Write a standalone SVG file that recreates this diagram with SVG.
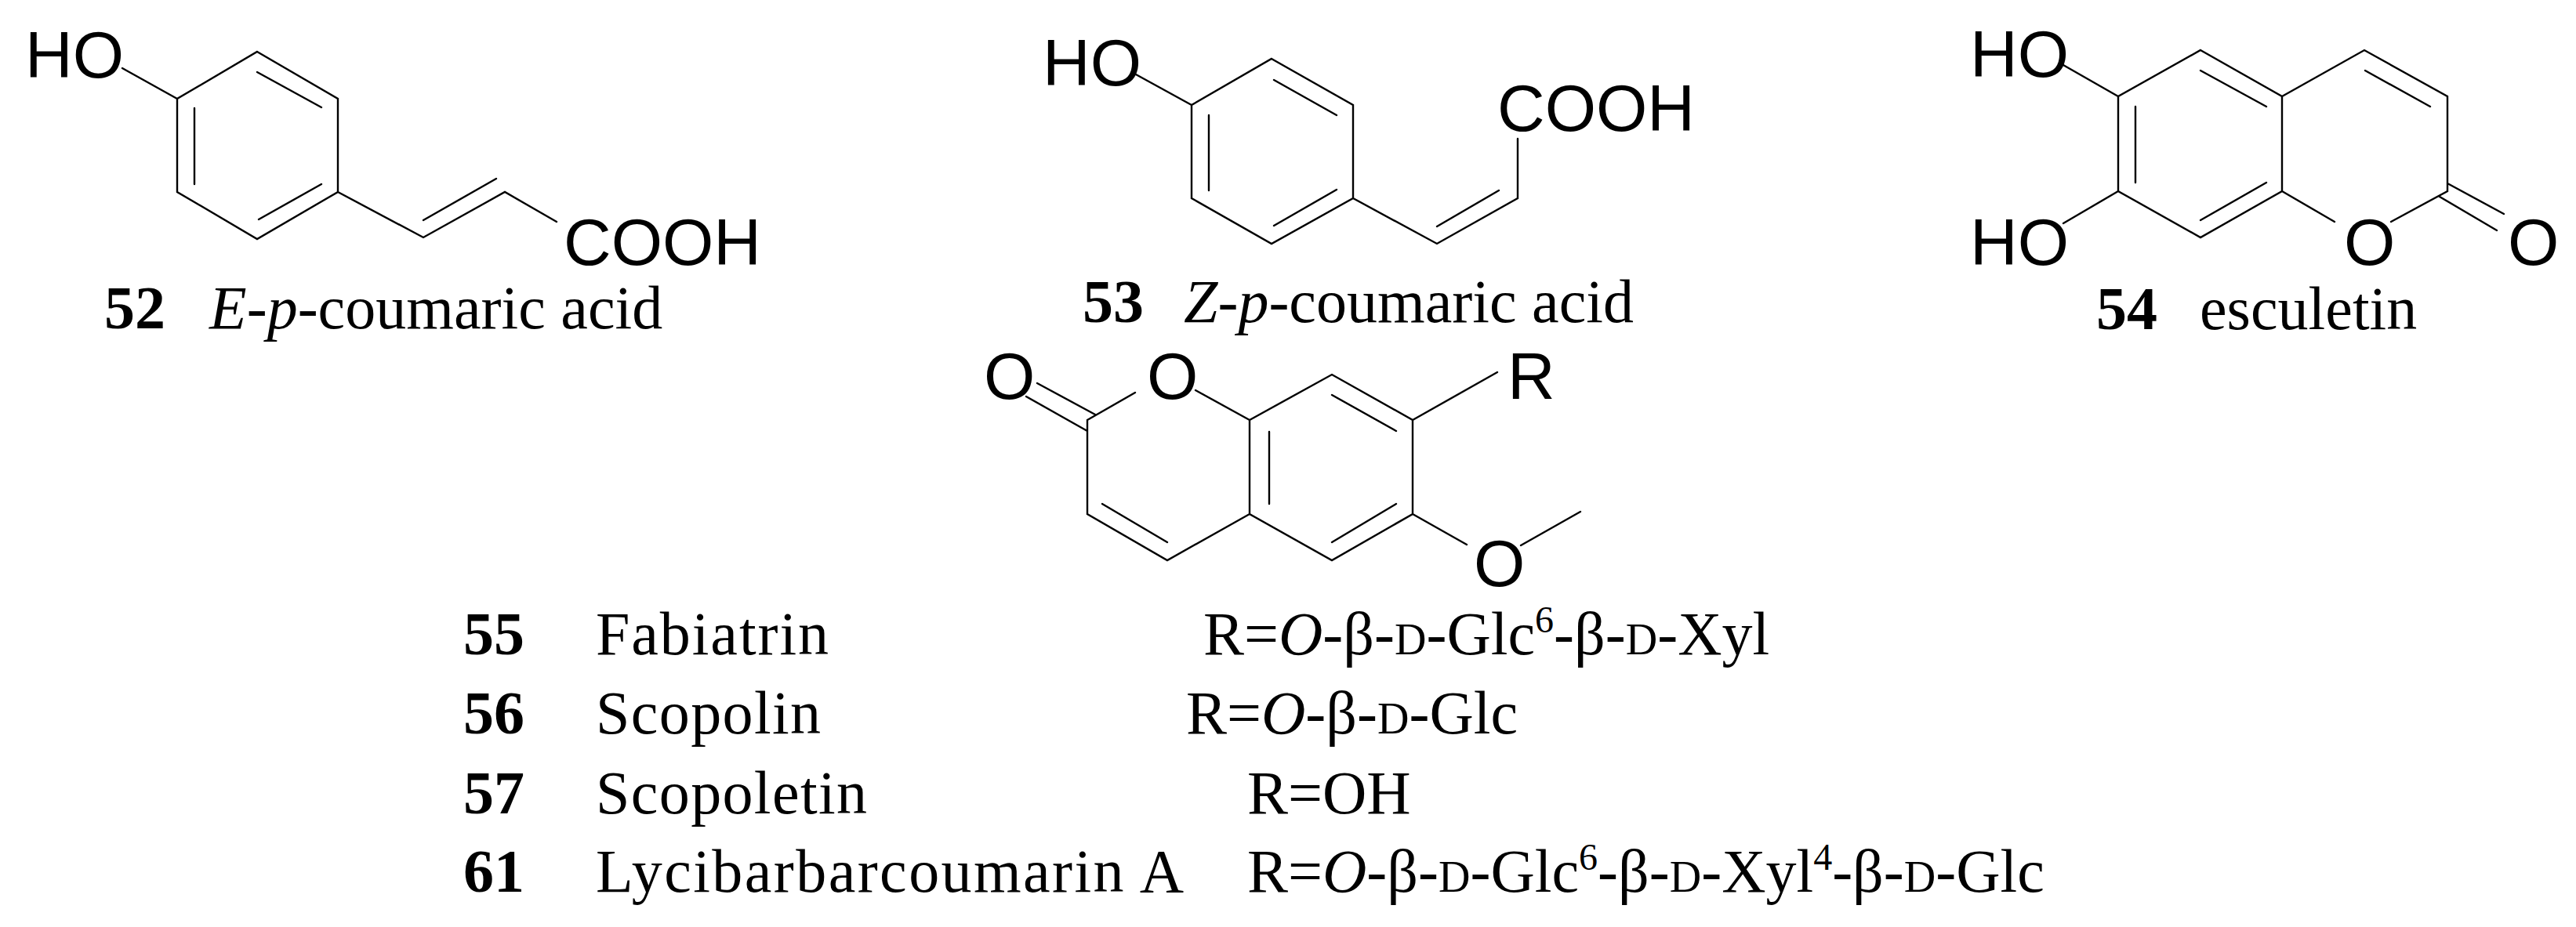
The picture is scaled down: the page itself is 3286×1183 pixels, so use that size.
<svg xmlns="http://www.w3.org/2000/svg" width="3286" height="1183" viewBox="0 0 3286 1183">
<style>
.b{stroke:#000;stroke-width:2.4;fill:none;stroke-linecap:round}
.a{font-family:"Liberation Sans",Arial,sans-serif;font-size:84px;fill:#000}
.t{font-family:"Liberation Serif","Times New Roman",serif;font-size:78px;fill:#000}
.n{font-weight:bold}
.i{font-style:italic}
.sc{font-size:56px}
.sup{font-size:48px}
</style>
<rect width="3286" height="1183" fill="#fff"/>
<g id="m52">
<path class="b" d="M328,66 L431,126 L431,245 L328,305 L226,245 L226,126 Z M328,92 L410,137 M248,138 L248,235 M330,280 L410,235 M156,87 L226,126 M431,245 L540,303 L644,245 L710,283 M540,281 L633,228"/>
<text class="a" x="32" y="99">HO</text>
<text class="a" x="719" y="338">COOH</text>
<text class="t" x="133" y="419"><tspan class="n">52</tspan><tspan x="267" class="i">E</tspan>-<tspan class="i">p</tspan>-coumaric acid</text>
</g>
<g id="m53">
<path class="b" d="M1622,75 L1726,134 L1726,253 L1622,311 L1520,253 L1520,134 Z M1625,102 L1705,147 M1542,147 L1542,243 M1625,288 L1705,242 M1449,95 L1520,134 M1726,253 L1833,311 L1936,253 L1936,177 M1833,289 L1912,243"/>
<text class="a" x="1330" y="109">HO</text>
<text class="a" x="1910" y="167">COOH</text>
<text class="t" x="1381" y="411"><tspan class="n">53</tspan><tspan x="1510" class="i">Z</tspan>-<tspan class="i">p</tspan>-coumaric acid</text>
</g>
<g id="m54">
<path class="b" d="M2807,64 L2911,123 L2911,244 L2807,303 L2702,244 L2702,123 Z M2807,90 L2891,136 M2724,136 L2724,233 M2807,281 L2891,233 M2911,123 L3016,64 L3122,123 L3122,244 L3050,283 M2911,244 L2978,283 M3017,90 L3100,136 M3112,251 L3185,294 M3122,234 L3194,273 M2632,83 L2702,123 M2632,285 L2702,244"/>
<text class="a" x="2513" y="98">HO</text>
<text class="a" x="2513" y="338">HO</text>
<text class="a" x="2990" y="338">O</text>
<text class="a" x="3199" y="338">O</text>
<text class="t" x="2674" y="420"><tspan class="n">54</tspan><tspan x="2806">esculetin</tspan></text>
</g>
<g id="m55">
<path class="b" d="M1387,536 L1448,501 M1525,498 L1594,536 M1323,489 L1397,529 M1309,506 L1387,550 M1387,536 L1387,656 L1489,715 L1594,656 M1406,643 L1489,692 M1594,536 L1699,478 L1802,536 L1802,656 L1699,715 L1594,656 Z M1699,504 L1781,550 M1619,551 L1619,643 M1699,692 L1781,643 M1802,536 L1910,475 M1802,656 L1871,695 M1940,696 L2016,653"/>
<text class="a" x="1255" y="509">O</text>
<text class="a" x="1463" y="509">O</text>
<text class="a" x="1923" y="509">R</text>
<text class="a" x="1880" y="748">O</text>
</g>
<g id="rows">
<text class="t" x="591" y="835"><tspan class="n">55</tspan></text>
<text class="t" x="760" y="835" textLength="297">Fabiatrin</text>
<text class="t" x="1535" y="835">R=<tspan class="i">O</tspan>-β-<tspan class="sc">D</tspan>-Glc<tspan class="sup" dy="-28">6</tspan><tspan dy="28">-β-</tspan><tspan class="sc">D</tspan>-Xyl</text>
<text class="t" x="591" y="936"><tspan class="n">56</tspan></text>
<text class="t" x="760" y="936" textLength="287">Scopolin</text>
<text class="t" x="1513" y="936">R=<tspan class="i">O</tspan>-β-<tspan class="sc">D</tspan>-Glc</text>
<text class="t" x="591" y="1038"><tspan class="n">57</tspan></text>
<text class="t" x="760" y="1038" textLength="346">Scopoletin</text>
<text class="t" x="1591" y="1038">R=OH</text>
<text class="t" x="591" y="1138"><tspan class="n">61</tspan></text>
<text class="t" x="760" y="1138" textLength="750">Lycibarbarcoumarin A</text>
<text class="t" x="1591" y="1138">R=<tspan class="i">O</tspan>-β-<tspan class="sc">D</tspan>-Glc<tspan class="sup" dy="-28">6</tspan><tspan dy="28">-β-</tspan><tspan class="sc">D</tspan>-Xyl<tspan class="sup" dy="-28">4</tspan><tspan dy="28">-β-</tspan><tspan class="sc">D</tspan>-Glc</text>
</g>
</svg>
